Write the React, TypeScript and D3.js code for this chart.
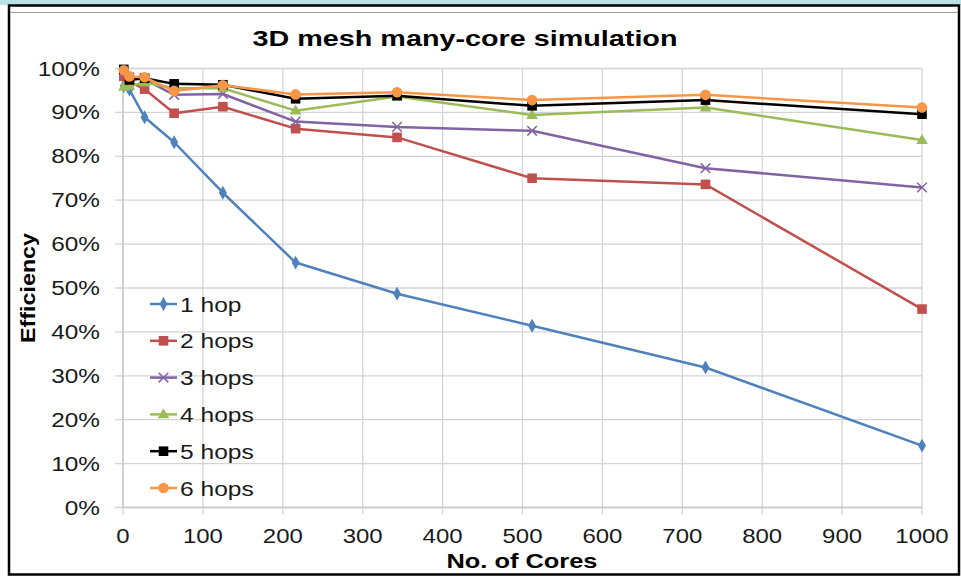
import React from "react";
import * as d3 from "d3";

const cores = [1, 8, 27, 64, 125, 216, 343, 512, 729, 1000];
const hop1 = [96.0, 95.2, 88.9, 83.2, 71.7, 55.8, 48.7, 41.4, 31.9, 14.1];
const hop2 = [98.2, 97.0, 95.3, 89.8, 91.3, 86.3, 84.3, 75.0, 73.6, 45.2];
const hop3 = [99.0, 98.0, 97.5, 94.0, 94.2, 87.9, 86.7, 85.8, 77.3, 72.9];
const hop4 = [95.8, 96.0, 96.8, 95.5, 95.5, 90.4, 93.6, 89.4, 91.1, 83.7];
const hop5 = [99.8, 97.4, 97.8, 96.5, 96.3, 93.1, 93.8, 91.5, 92.8, 89.6];
const hop6 = [99.6, 98.2, 98.0, 94.9, 96.2, 94.1, 94.6, 92.8, 94.0, 91.1];

const seriesNames = ["1 hop", "2 hops", "3 hops", "4 hops", "5 hops", "6 hops"];
const seriesValues = [hop1, hop2, hop3, hop4, hop5, hop6];
const seriesColors = ["#4F81BD", "#C0504D", "#8064A2", "#9BBB59", "#000000", "#F79646"];
const seriesMarkers = ["diamond", "square", "x", "triangle", "square", "circle"];

const xTicks = [0, 100, 200, 300, 400, 500, 600, 700, 800, 900, 1000];
const yTicks = [0, 10, 20, 30, 40, 50, 60, 70, 80, 90, 100];

const W = 961;
const H = 577;
const FONT = "'Liberation Sans', Arial, Helvetica, sans-serif";

const x = d3.scaleLinear().domain([0, 1000]).range([123, 922]);
const y = d3.scaleLinear().domain([0, 100]).range([507.5, 68.5]);

function Marker({ kind, cx, cy, color }: { kind: string; cx: number; cy: number; color: string }) {
  if (kind === "circle") return <circle cx={cx} cy={cy} r={5.3} fill={color} />;
  if (kind === "square") return <rect x={cx - 4.8} y={cy - 4.8} width={9.6} height={9.6} fill={color} />;
  if (kind === "diamond")
    return <path d={d3.symbol(d3.symbolDiamond, 55)() as string} transform={`translate(${cx},${cy})`} fill={color} />;
  if (kind === "triangle")
    return <path d={d3.symbol(d3.symbolTriangle, 58)() as string} transform={`translate(${cx},${cy + 0.5})`} fill={color} />;
  const s = 4.8;
  return (
    <path
      d={`M${cx - s},${cy - s}L${cx + s},${cy + s}M${cx - s},${cy + s}L${cx + s},${cy - s}`}
      stroke={color}
      strokeWidth={1.5}
      fill="none"
    />
  );
}

export default function App() {
  const line = d3
    .line<number>()
    .x((_, i) => x(cores[i]))
    .y((v) => y(v));

  return (
    <svg width={W} height={H} style={{ position: "absolute", left: 0, top: 0, background: "#fff" }}>
      <rect x={0} y={0} width={W} height={5} fill="#B9E2E6" />
      <rect x={9} y={5.5} width={950} height={569} fill="#fff" stroke="#000" strokeWidth={2.5} />
      <line x1={11} x2={957} y1={12.5} y2={12.5} stroke="#9a9a9a" strokeWidth={1} />

      {yTicks.map((t) => (
        <line key={"gy" + t} x1={115} x2={x(1000)} y1={y(t)} y2={y(t)} stroke="#D4D4D4" strokeWidth={1.3} />
      ))}
      {xTicks.map((t) => (
        <line key={"gx" + t} x1={x(t)} x2={x(t)} y1={y(100)} y2={y(0) + 7} stroke="#D4D4D4" strokeWidth={1.3} />
      ))}
      <line x1={x(0)} x2={x(1000)} y1={y(0)} y2={y(0)} stroke="#C8C8C8" strokeWidth={1.3} />
      <line x1={x(0)} x2={x(0)} y1={y(100)} y2={y(0)} stroke="#C8C8C8" strokeWidth={1.3} />

      {yTicks.map((t) => (
        <text
          key={"ty" + t}
          transform={`translate(100,${y(t) + 7}) scale(1.25,1)`}
          textAnchor="end"
          fontFamily={FONT}
          fontSize={19.5}
          fill="#1a1a1a"
        >
          {t + "%"}
        </text>
      ))}
      {xTicks.map((t) => (
        <text
          key={"tx" + t}
          transform={`translate(${x(t)},${543}) scale(1.23,1)`}
          textAnchor="middle"
          fontFamily={FONT}
          fontSize={19.5}
          fill="#1a1a1a"
        >
          {t}
        </text>
      ))}

      <text x={465} y={46} textAnchor="middle" fontFamily={FONT} fontWeight="bold" fontSize={22.5} textLength={425} lengthAdjust="spacingAndGlyphs" fill="#000">
        3D mesh many-core simulation
      </text>
      <text x={522} y={568} textAnchor="middle" fontFamily={FONT} fontWeight="bold" fontSize={21} textLength={151} lengthAdjust="spacingAndGlyphs" fill="#000">
        No. of Cores
      </text>
      <text transform={`translate(35,288) rotate(-90)`} textAnchor="middle" fontFamily={FONT} fontWeight="bold" fontSize={20} textLength={110} lengthAdjust="spacingAndGlyphs" fill="#000">
        Efficiency
      </text>

      {seriesValues.map((vals, si) => (
        <g key={"s" + si}>
          <path d={line(vals) as string} fill="none" stroke={seriesColors[si]} strokeWidth={2.5} strokeLinejoin="round" />
          {vals.map((v, i) => (
            <Marker key={i} kind={seriesMarkers[si]} cx={x(cores[i])} cy={y(v)} color={seriesColors[si]} />
          ))}
        </g>
      ))}

      {seriesNames.map((name, i) => {
        const ly = 304 + i * 36.8;
        return (
          <g key={"l" + i}>
            <line x1={150} x2={177} y1={ly} y2={ly} stroke={seriesColors[i]} strokeWidth={2.5} />
            <Marker kind={seriesMarkers[i]} cx={163.5} cy={ly} color={seriesColors[i]} />
            <text
              transform={`translate(180,${ly + 7.5}) scale(1.26,1)`}
              fontFamily={FONT}
              fontSize={19.5}
              fill="#1a1a1a"
            >
              {name}
            </text>
          </g>
        );
      })}
    </svg>
  );
}
